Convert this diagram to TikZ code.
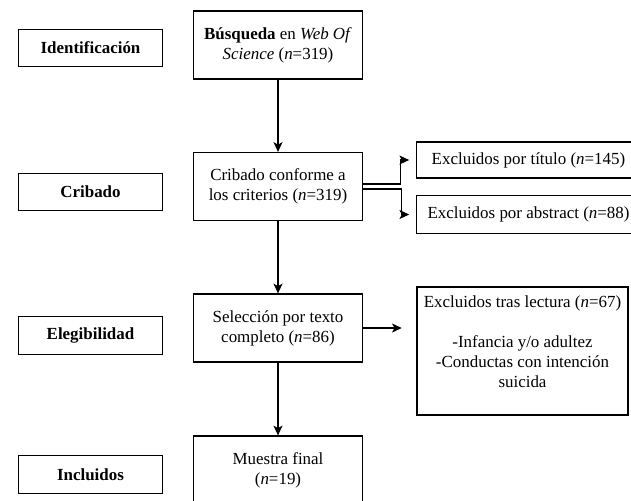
\documentclass[tikz,border=0pt]{standalone}
\usepackage{fontspec}
\setmainfont{Liberation Serif}
\usetikzlibrary{arrows.meta}
\begin{document}
\begin{tikzpicture}[x=0.72pt,y=-0.72pt,
        box/.style={draw,line width=0.9pt,align=center,inner sep=0pt,
            font=\fontsize{12.2}{14.4}\selectfont},
        stage/.style={box,minimum width=104pt,minimum height=27pt},
        flow/.style={box,minimum width=122pt,minimum height=49pt},
        conn/.style={line width=0.75pt,-{Stealth[length=7pt,width=6.5pt,inset=1.8pt]}}]
            \useasboundingbox (0,0) rectangle (631,500);
            \clip (0,0) rectangle (631,500);
            \foreach \y/\name/\txt in {48/ident/Identificación,192/crib/Cribado,335.5/eleg/Elegibilidad,474.5/incl/Incluidos} {
                \node[stage] (\name) at (90.5,\y) {\textbf{\txt}};
            }
            \node[flow] (busq) at (278,45) {\textbf{Búsqueda} en \textit{Web Of}\\\textit{Science} (\textit{n}=319)};
            \node[flow] (cribbox) at (278,186.5) {Cribado conforme a\\los criterios (\textit{n}=319)};
            \node[flow] (selec) at (278,328) {Selección por texto\\completo (\textit{n}=86)};
            \node[flow] (muestra) at (278,470) {Muestra final\\(\textit{n}=19)};
            \node[box,minimum width=161pt,minimum height=26pt] (titulo) at (528.5,160) {Excluidos por título (\textit{n}=145)};
            \node[box,minimum width=161pt,minimum height=27pt] (abstract) at (528.5,214.5) {Excluidos por abstract (\textit{n}=88)};
            \node[box,minimum width=152pt,minimum height=92pt] (lectura) at (522.5,351) {Excluidos tras lectura (\textit{n}=67)\\[14.4pt]-Infancia y/o adultez\\-Conductas con intención\\suicida\\[-5pt]\strut};
            \draw[conn] (busq) -- (cribbox);
            \draw[conn] (cribbox) -- (selec);
            \draw[conn] (selec) -- (muestra);
            \draw[conn,shorten >=10.5pt] (selec) -- (lectura.west |- selec.east);
            \draw[conn,shorten >=5pt] ([yshift=1.8pt]cribbox.east) -- ++(37,0) |- (titulo.west);
            \draw[conn,shorten >=5pt] ([yshift=-1.8pt]cribbox.east) -- ++(38,0) |- (abstract.west);
        \end{tikzpicture}
\end{document}
